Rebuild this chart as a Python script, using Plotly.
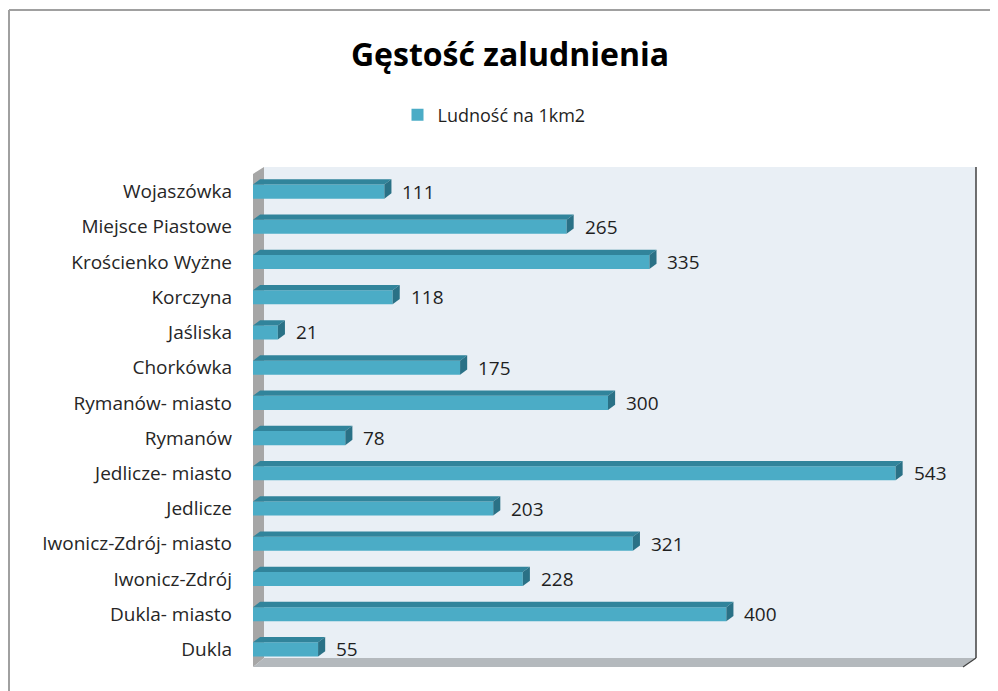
import plotly.graph_objects as go

# Data (bottom to top as in plotly's categorical order)
categories = ["Dukla", "Dukla- miasto", "Iwonicz-Zdrój", "Iwonicz-Zdrój- miasto",
              "Jedlicze", "Jedlicze- miasto", "Rymanów", "Rymanów- miasto",
              "Chorkówka", "Jaśliska", "Korczyna", "Krościenko Wyżne",
              "Miejsce Piastowe", "Wojaszówka"]
values = [55, 400, 228, 321, 203, 543, 78, 300, 175, 21, 118, 335, 265, 111]
series_name = "Ludność na 1km2"
title_text = "Gęstość zaludnienia"

OFF = 8  # default body margin of the html page
PW, PH = 998, 691
W, H = PW - OFF, PH - OFF
# plot area in page pixels
L, R, T, B = 253, 963, 174, 667
FONT = "Open Sans, Noto Sans, sans-serif"

FRONT = "#4BACC6"
TOP = "#31849B"
CAP = "#2A7186"

def px(x):
    return (x - L) / (R - L)

def py(y):
    return (B - y) / (B - T)

fig = go.Figure()
fig.add_trace(go.Bar(
    x=values, y=categories, orientation="h", name=series_name,
    marker=dict(color=FRONT, line=dict(width=0)), width=0.40,
    showlegend=True,
))

shapes = []
# back wall
shapes.append(dict(type="rect", xref="paper", yref="paper", layer="below",
                   x0=px(264), x1=px(976), y0=py(658), y1=py(167),
                   fillcolor="#E9EFF5", line=dict(width=0)))
# left wall
shapes.append(dict(type="path", xref="paper", yref="paper", layer="below",
                   path=f"M {px(253)},{py(174)} L {px(264)},{py(167)} L {px(264)},{py(658)} L {px(253)},{py(667)} Z",
                   fillcolor="#A6A6A6", line=dict(width=0)))
# floor
shapes.append(dict(type="path", xref="paper", yref="paper", layer="below",
                   path=f"M {px(253)},{py(667)} L {px(264)},{py(658)} L {px(976)},{py(658)} L {px(963)},{py(667)} Z",
                   fillcolor="#B4B9BD", line=dict(width=0)))
# right edge of back wall
shapes.append(dict(type="line", xref="paper", yref="paper", layer="below",
                   x0=px(976), x1=px(976), y0=py(658), y1=py(167),
                   line=dict(color="#404040", width=1.5)))
shapes.append(dict(type="line", xref="paper", yref="paper", layer="below",
                   x0=px(976), x1=px(963), y0=py(658), y1=py(667),
                   line=dict(color="#404040", width=1.2)))
# outer frame
shapes.append(dict(type="line", xref="paper", yref="paper",
                   x0=px(9), x1=px(9), y0=py(10), y1=py(720),
                   line=dict(color="#A0A0A0", width=2)))
shapes.append(dict(type="line", xref="paper", yref="paper",
                   x0=px(9), x1=px(1020), y0=py(10), y1=py(10),
                   line=dict(color="#A0A0A0", width=2)))

# 3D faces of bars (in data coordinates)
bw = 0.40
dx = 6.0      # value units
dy = 0.15     # category units
for i, v in enumerate(values):
    top = i + bw / 2
    bot = i - bw / 2
    shapes.append(dict(type="path", xref="x", yref="y", layer="above",
                       path=f"M 0,{top} L {v},{top} L {v+dx},{top+dy} L {dx},{top+dy} Z",
                       fillcolor=TOP, line=dict(width=0)))
    shapes.append(dict(type="path", xref="x", yref="y", layer="above",
                       path=f"M {v},{bot} L {v},{top} L {v+dx},{top+dy} L {v+dx},{bot+dy} Z",
                       fillcolor=CAP, line=dict(width=0)))

annotations = []
for c, v in zip(categories, values):
    annotations.append(dict(x=v, y=c, xref="x", yref="y", text=str(v),
                            showarrow=False, xanchor="left", yanchor="middle",
                            xshift=16, font=dict(family=FONT, size=19, color="#1F1F1F")))

fig.update_layout(
    width=W, height=H,
    margin=dict(l=L - OFF, r=W - (R - OFF), t=T - OFF, b=H - (B - OFF), pad=0),
    paper_bgcolor="white", plot_bgcolor="rgba(0,0,0,0)",
    title=dict(text=f"<b>{title_text}</b>", x=(510 - OFF) / W, xref="container", xanchor="center",
               y=1 - (55 - OFF) / H, yref="container", yanchor="middle",
               font=dict(family=FONT, size=32, color="#000000")),
    legend=dict(orientation="h", x=px(494), xanchor="center", y=py(115), yanchor="middle",
                font=dict(family=FONT, size=18, color="#1F1F1F"),
                bgcolor="rgba(0,0,0,0)", itemwidth=30),
    xaxis=dict(range=[0, 600], visible=False, fixedrange=True),
    yaxis=dict(range=[-0.5, 13.5], showgrid=False, showline=False, zeroline=False,
               ticks="", ticklabelstandoff=20,
               tickfont=dict(family=FONT, size=19, color="#262626")),
    shapes=shapes, annotations=annotations,
    bargap=0.6,
)

fig.write_html("out.html")
